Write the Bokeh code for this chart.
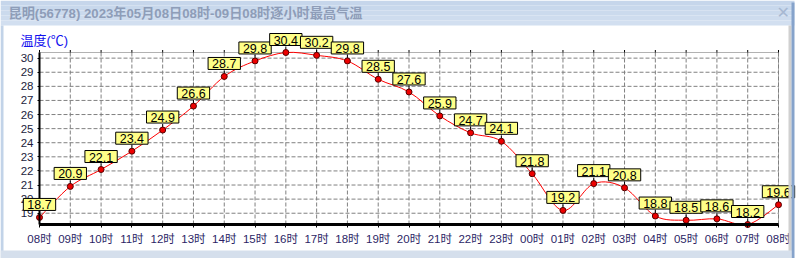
from bokeh.plotting import figure
from bokeh.models import (Label, BoxAnnotation, FixedTicker, Range1d, LinearAxis)
from bokeh.embed import file_html
from bokeh.resources import INLINE

# ---- data ----
hour_labels = ["08时", "09时", "10时", "11时", "12时", "13时", "14时", "15时", "16时",
               "17时", "18时", "19时", "20时", "21时", "22时", "23时", "00时", "01时",
               "02时", "03时", "04时", "05时", "06时", "07时", "08时"]
temps = [18.7, 20.9, 22.1, 23.4, 24.9, 26.6, 28.7, 29.8, 30.4, 30.2, 29.8, 28.5, 27.6,
         25.9, 24.7, 24.1, 21.8, 19.2, 21.1, 20.8, 18.8, 18.5, 18.6, 18.2, 19.6]
y_ticks = [19, 20, 21, 22, 23, 24, 25, 26, 27, 28, 29, 30]
title_text = "昆明(56778)  2023年05月08日08时-09日08时逐小时最高气温"
y_title = "温度(℃)"

xs = list(range(len(temps)))
n = len(temps)
FONT = "Liberation Sans, Noto Sans CJK SC"

# ---- layout (pixels) ----
W, H = 798, 258
PL, PR, PT, PB = 39, 778, 52, 224          # plot-area edges in the window
y0, y1 = min(temps), max(temps)
ux = (PR - PL) / (n - 1)                   # px per hour
uy = (PB - PT) / (y1 - y0)                 # px per degree
x_start, x_end = -PL / ux, (n - 1) + (W - PR) / ux
y_end, y_start = y1 + PT / uy, y0 - (H - PB) / uy


def px(v):
    return x_start + v / ux


def py(v):
    return y_end - v / uy


p = figure(width=W, height=H, output_backend="svg", toolbar_location=None,
           x_range=Range1d(x_start, x_end), y_range=Range1d(y_start, y_end),
           x_axis_location=None, y_axis_location=None,
           min_border=0, background_fill_color="white", border_fill_color="white")
p.outline_line_color = None
p.xgrid.visible = False
p.ygrid.visible = False

# dashed grid inside the plot area
p.segment(x0=xs, y0=[y0] * n, x1=xs, y1=[y1] * n,
          line_color="#808080", line_dash="4 2", line_width=1)
p.segment(x0=[0] * len(y_ticks), y0=y_ticks, x1=[n - 1] * len(y_ticks), y1=y_ticks,
          line_color="#808080", line_dash="4 2", line_width=1)

# plot-area outline
p.add_layout(BoxAnnotation(left=0, right=n - 1, bottom=y0, top=y1, fill_color=None,
                           line_color="black", line_width=1, level="underlay"))

# small tick marks on the top edge
p.segment(x0=xs, y0=[y1] * n, x1=xs, y1=[y1 + 2.5 / uy] * n, line_color="black", line_width=1)

# axes fixed to the plot-area edges
xa = LinearAxis(fixed_location=y0, bounds=(0, n - 1), ticker=FixedTicker(ticks=xs))
xa.major_label_overrides = {i: s for i, s in enumerate(hour_labels)}
xa.axis_line_width = 3
xa.axis_line_color = "black"
xa.major_tick_out = 3
xa.major_tick_in = 0
xa.minor_tick_line_color = None
xa.major_label_standoff = 5
xa.major_label_text_font = FONT
xa.major_label_text_font_size = "11.5px"
xa.major_label_text_color = "#2c1f66"
p.add_layout(xa, "below")

ya = LinearAxis(fixed_location=0, bounds=(y0, y1), ticker=FixedTicker(ticks=y_ticks))
ya.axis_line_width = 2
ya.axis_line_color = "black"
ya.major_tick_out = 2
ya.major_tick_in = 0
ya.minor_tick_line_color = None
ya.major_label_standoff = 4
ya.major_label_text_font = FONT
ya.major_label_text_font_size = "11.5px"
ya.major_label_text_color = "#1c1c3c"
p.add_layout(ya, "left")

# smooth curve (cardinal spline through the data points)
bx0, by0, bx1, by1, cx0, cy0, cx1, cy1 = [], [], [], [], [], [], [], []
for i in range(n - 1):
    pm = i - 1 if i > 0 else i
    pp = i + 2 if i + 2 < n else i + 1
    bx0.append(xs[i]); by0.append(temps[i])
    bx1.append(xs[i + 1]); by1.append(temps[i + 1])
    cx0.append(xs[i] + (xs[i + 1] - xs[pm]) / 6.0)
    cy0.append(temps[i] + (temps[i + 1] - temps[pm]) / 6.0)
    cx1.append(xs[i + 1] - (xs[pp] - xs[i]) / 6.0)
    cy1.append(temps[i + 1] - (temps[pp] - temps[i]) / 6.0)
p.bezier(x0=bx0, y0=by0, x1=bx1, y1=by1, cx0=cx0, cy0=cy0, cx1=cx1, cy1=cy1,
         line_color="#ff0000", line_width=1)

# connectors from point to label box
p.segment(x0=xs, y0=temps, x1=xs, y1=[t + 6.0 / uy for t in temps],
          line_color="black", line_width=1)

p.scatter(xs, temps, size=6, marker="circle", fill_color="#ee0000", line_color="#550000")

# value labels
for x, t in zip(xs, temps):
    p.add_layout(Label(x=x, y=t, text=f"{t:.1f}", text_align="center", text_baseline="bottom",
                       y_offset=7, text_font=FONT, text_font_size="12.5px", text_color="black",
                       background_fill_color="#ffff88", border_line_color="black",
                       border_line_width=1, padding=dict(left=4, right=4, top=2, bottom=1)))


# ---- window chrome ----
def wbox(l, r, t, b, color):
    p.add_layout(BoxAnnotation(left=px(l), right=px(r), top=py(t), bottom=py(b),
                               fill_color=color, fill_alpha=1, line_color=None, level="overlay"))


bands = ["#c6d6eb", "#c8d8ec", "#cbdaed", "#cedcee", "#d2dff0"]
for k, c in enumerate(bands):
    wbox(0, 794, k * 5, k * 5 + 5, c)
wbox(0, 3, 25, 258, "#c2d3e8")
wbox(788, 791, 25, 258, "#d0d0d0")
wbox(791, 794, 2, 258, "#86a3cb")
wbox(0, 791, 250, 258, "#d5dfec")

p.add_layout(Label(x=px(8), y=py(5), text=title_text,
                   text_font=FONT, text_font_size="13.2px", text_font_style="bold",
                   text_color="#8e9db8", text_baseline="top", level="overlay"))
p.add_layout(Label(x=px(776), y=py(2), text="✕",
                   text_font="DejaVu Sans", text_font_size="16px", text_font_style="bold",
                   text_color="#a7b8d2", text_baseline="top", level="overlay"))
p.add_layout(Label(x=px(20), y=py(32), text=y_title,
                   text_font=FONT, text_font_size="13px", text_color="#1010ee",
                   text_baseline="top"))

open("out.html", "w").write(file_html(p, INLINE))
